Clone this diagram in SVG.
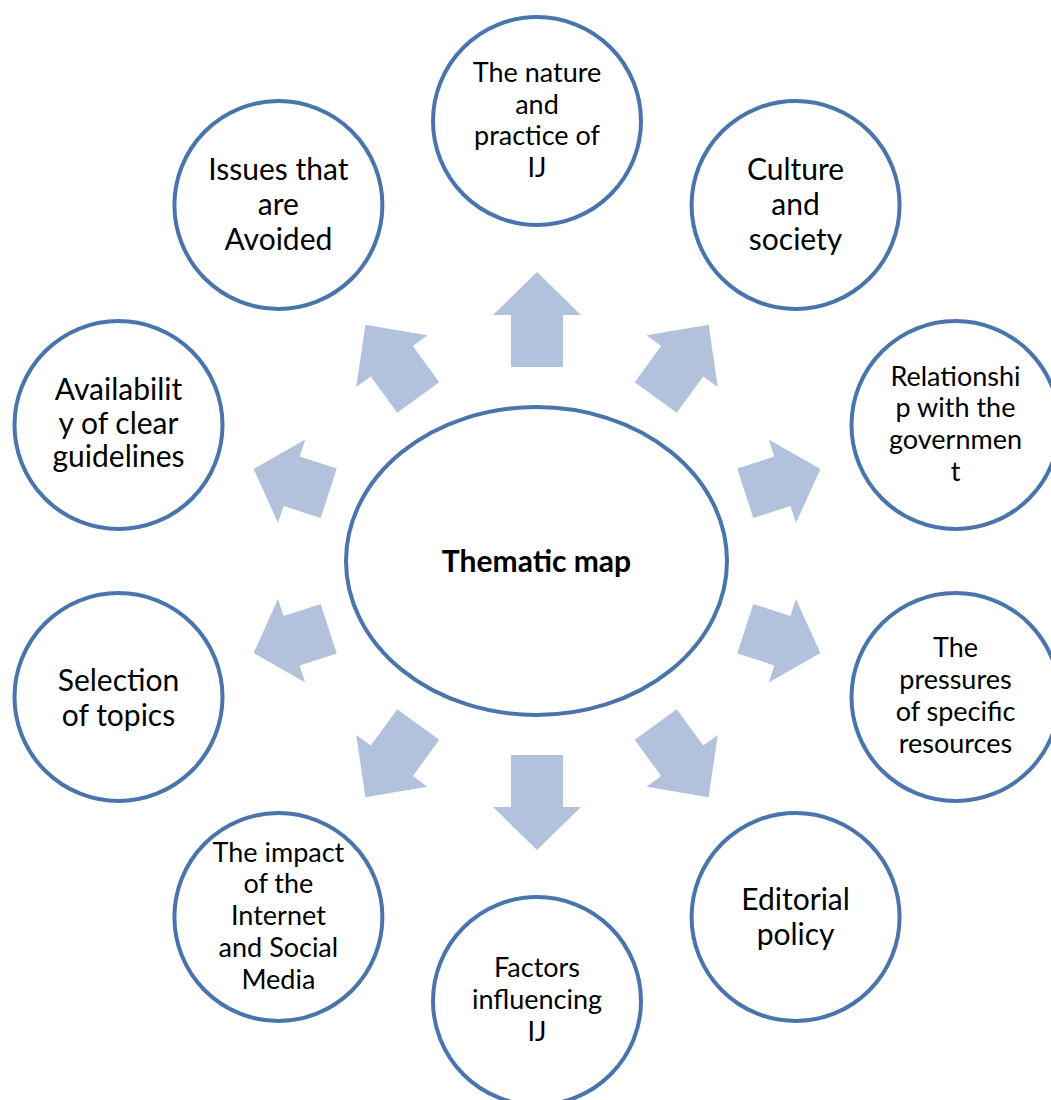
<svg xmlns="http://www.w3.org/2000/svg" xmlns:xlink="http://www.w3.org/1999/xlink" width="1051" height="1100" viewBox="0 0 1051 1100">
<style>
.node{fill:#ffffff;stroke:#4A75AC;stroke-width:4}
.arrow{fill:#B2C2DD;stroke:none}
.t{font-family:Lato,"Liberation Sans",sans-serif;fill:#000000;text-anchor:middle}
.s22{font-size:27px}
.s24{font-size:30px}
.title{font-family:Lato,"Liberation Sans",sans-serif;font-weight:bold;font-size:30px;text-anchor:middle;fill:#000000}
</style>
<defs>
<polygon id="arrV" class="arrow" points="731,535 783,535 783,517 826,561 783,605 783,587 731,587"/>
<polygon id="arrD" class="arrow" points="739,535 784,535 784,517 829,561 784,605 784,587 739,587"/>
<polygon id="arrS" class="arrow" points="756,535 795,535 795,517 835,561 795,605 795,587 756,587"/>
</defs>
<rect width="1051" height="1100" fill="#ffffff"/>
<g id="connectors">
<use xlink:href="#arrV" href="#arrV" transform="rotate(-90 537 561)"/>
<use xlink:href="#arrD" href="#arrD" transform="rotate(-54 537 561)"/>
<use xlink:href="#arrS" href="#arrS" transform="rotate(-18 537 561)"/>
<use xlink:href="#arrS" href="#arrS" transform="rotate(18 537 561)"/>
<use xlink:href="#arrD" href="#arrD" transform="rotate(54 537 561)"/>
<use xlink:href="#arrV" href="#arrV" transform="rotate(90 537 561)"/>
<use xlink:href="#arrD" href="#arrD" transform="rotate(126 537 561)"/>
<use xlink:href="#arrS" href="#arrS" transform="rotate(162 537 561)"/>
<use xlink:href="#arrS" href="#arrS" transform="rotate(198 537 561)"/>
<use xlink:href="#arrD" href="#arrD" transform="rotate(234 537 561)"/>
</g>
<g id="center">
<ellipse class="node" cx="536.5" cy="561" rx="190.5" ry="154"/>
<text class="title" x="536.5" y="572">Thematic map</text>
</g>
<g id="n1">
<circle class="node" cx="537" cy="121" r="104"/>
<text class="t s22" x="537"><tspan x="537" y="82">The nature</tspan><tspan x="537" y="113.5">and</tspan><tspan x="537" y="145">practice of</tspan><tspan x="537" y="177">IJ</tspan></text>
</g>
<g id="n2">
<circle class="node" cx="795.6" cy="205" r="104"/>
<text class="t s24"><tspan x="795.6" y="180">Culture</tspan><tspan x="795.6" y="215">and</tspan><tspan x="795.6" y="250">society</tspan></text>
</g>
<g id="n3">
<circle class="node" cx="955.5" cy="425" r="104"/>
<text class="t s22"><tspan x="955.5" y="386">Relationshi</tspan><tspan x="955.5" y="417">p with the</tspan><tspan x="955.5" y="449">governmen</tspan><tspan x="955.5" y="480.5">t</tspan></text>
</g>
<g id="n4">
<circle class="node" cx="955.5" cy="697" r="104"/>
<text class="t s22"><tspan x="955.5" y="657">The</tspan><tspan x="955.5" y="689">pressures</tspan><tspan x="955.5" y="721">of specific</tspan><tspan x="955.5" y="752.5">resources</tspan></text>
</g>
<g id="n5">
<circle class="node" cx="795.6" cy="917" r="104"/>
<text class="t s24"><tspan x="795.6" y="910">Editorial</tspan><tspan x="795.6" y="945">policy</tspan></text>
</g>
<g id="n6">
<circle class="node" cx="537" cy="1001" r="104"/>
<text class="t s22"><tspan x="537" y="977">Factors</tspan><tspan x="537" y="1009">influencing</tspan><tspan x="537" y="1041">IJ</tspan></text>
</g>
<g id="n7">
<circle class="node" cx="278.4" cy="917" r="104"/>
<text class="t s22"><tspan x="278.4" y="862">The impact</tspan><tspan x="278.4" y="893">of the</tspan><tspan x="278.4" y="925">Internet</tspan><tspan x="278.4" y="957">and Social</tspan><tspan x="278.4" y="988.5">Media</tspan></text>
</g>
<g id="n8">
<circle class="node" cx="118.5" cy="697" r="104"/>
<text class="t s24"><tspan x="118.5" y="691">Selection</tspan><tspan x="118.5" y="726">of topics</tspan></text>
</g>
<g id="n9">
<circle class="node" cx="118.5" cy="425" r="104"/>
<text class="t s24"><tspan x="118.5" y="400">Availabilit</tspan><tspan x="118.5" y="433.5">y of clear</tspan><tspan x="118.5" y="467">guidelines</tspan></text>
</g>
<g id="n10">
<circle class="node" cx="278.4" cy="205" r="104"/>
<text class="t s24"><tspan x="278.4" y="180">Issues that</tspan><tspan x="278.4" y="215">are</tspan><tspan x="278.4" y="250">Avoided</tspan></text>
</g>
</svg>
